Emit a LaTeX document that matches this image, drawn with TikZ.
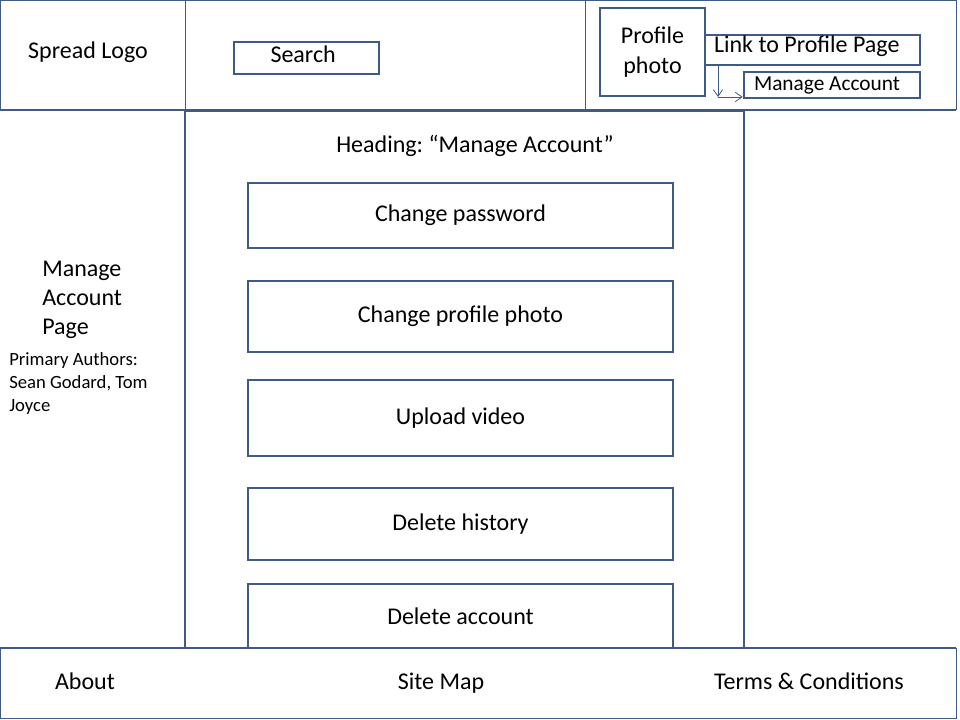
\documentclass[tikz,border=0pt]{standalone}
\usepackage{fontspec}
\setmainfont{Carlito}
\frenchspacing
\usetikzlibrary{arrows.meta}
\definecolor{wireblue}{RGB}{62,90,135}
\tikzset{>={Straight Barb[length=5pt,width=7pt]}}

\begin{document}
\begin{tikzpicture}[x=0.75pt,y=-0.75pt,
    frame/.style={draw=wireblue,line width=1.5pt},
    thinframe/.style={draw=wireblue,line width=0.75pt},
    btn/.style={draw=wireblue,line width=1.5pt,minimum width=318.75pt,inner sep=0pt,font=\fontsize{18}{21.6}\selectfont},
    big/.style={font=\fontsize{18}{21.6}\selectfont,inner sep=0pt},
    small/.style={font=\fontsize{14}{17.5}\selectfont,inner sep=0pt},
    link/.style={->,draw=wireblue,line width=0.6pt}]
    \useasboundingbox (0,0) rectangle (960,720);
    % Header bar and dividers
    \draw[thinframe] (0.5,0.5) rectangle (956,110);
    \draw[thinframe] (185,0.5) -- (185,110);
    \draw[thinframe] (585,0.5) -- (585,110);
    \draw[frame] (0,110) -- (956,110);
    % Main content column
    \draw[frame] (185,111) rectangle (744,648);
    % Footer bar
    \draw[thinframe] (0.5,648) rectangle (956,718.5);
    \draw[frame] (0,648) -- (956,648);
    % Header contents
    \node[big] (logo) at (88,52) {Spread Logo};
    \node[draw=wireblue,line width=2pt,minimum width=108.75pt,minimum height=24pt,big,text depth=6pt] (search) at (306.5,58) {\makebox[60pt][l]{\hspace{3pt}Search}};
    \node[draw=wireblue,line width=2pt,minimum width=78.75pt,minimum height=66pt,align=center,font=\fontsize{18}{22.5}\selectfont,inner sep=0pt] (photo) at (652.5,52) {Profile\\photo};
    \node[draw=wireblue,line width=2pt,minimum height=22.5pt,big,inner xsep=6.75pt,text depth=8.5pt] (profile) at (812.5,50) {\makebox[147.75pt][l]{Link to Profile Page}};
    \node[draw=wireblue,line width=2pt,minimum height=19.5pt,font=\fontsize{16}{19}\selectfont,inner xsep=7.5pt,inner ysep=0pt] (manage) at (832,85) {\makebox[117pt][l]{Manage Account}};
    % Dropdown arrows
    \coordinate (bend) at (718,97);
    \draw[link] (profile.south -| bend) -- (bend);
    \draw[link] (bend) -- (bend -| manage.west);
    % Page title and authors
    \node[big,anchor=north west,align=left] (title) at (42,261) {Manage\\Account\\Page};
    \node[small,anchor=north west,align=left] (authors) at (9,352) {Primary Authors:\\Sean Godard, Tom\\Joyce};
    % Heading and buttons
    \node[big] (heading) at (475,146) {Heading: “Manage Account”};
    \node[btn,minimum height=48.75pt] (pwd) at (460.5,215.5) {Change password};
    \node[btn,minimum height=53.25pt] (photobtn) at (460.5,316.5) {Change profile photo};
    \node[btn,minimum height=57pt] (video) at (460.5,418) {Upload video};
    \node[btn,minimum height=54pt] (history) at (460.5,524) {Delete history};
    \node[btn,minimum height=48pt] (account) at (460.5,616) {Delete account};
    % Footer links
    \node[big,anchor=base] (about) at (85,689) {About};
    \node[big,anchor=base] (sitemap) at (441,689) {Site Map};
    \node[big,anchor=base] (terms) at (809,689) {Terms \& Conditions};
\end{tikzpicture}
\end{document}
